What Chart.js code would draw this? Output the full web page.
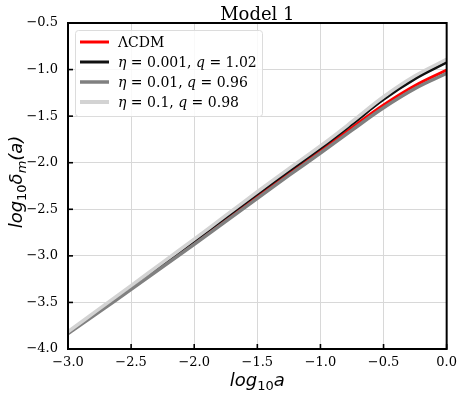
<!DOCTYPE html>
<html>
<head>
<meta charset="utf-8">
<script src="https://cdn.jsdelivr.net/npm/chart.js@4"></script>
<style>
  html, body { margin: 0; padding: 0; background: #fff; }
  #wrap { width: 463px; height: 397px; }
</style>
</head>
<body>
<div id="wrap"><canvas id="myChart"></canvas></div>
<script>
// log10 a sample points
const logA = [-3, -2.75, -2.5, -2.25, -2, -1.75, -1.5, -1.25, -1, -0.75, -0.5, -0.25, 0];

// log10 delta_m(a) for each model
const lcdm  = [-3.828, -3.587, -3.347, -3.102, -2.857, -2.609, -2.359, -2.112, -1.87, -1.623, -1.38, -1.171, -1.005];
const eta1  = [-3.822, -3.577, -3.333, -3.086, -2.839, -2.587, -2.335, -2.087, -1.843, -1.585, -1.32, -1.098, -0.922];
const eta2  = [-3.835, -3.597, -3.36, -3.118, -2.876, -2.63, -2.382, -2.136, -1.896, -1.65, -1.41, -1.203, -1.04];
const eta3  = [-3.815, -3.567, -3.32, -3.07, -2.82, -2.566, -2.312, -2.064, -1.82, -1.56, -1.292, -1.067, -0.89];

const seriesLabels = ['\u039BCDM', 'η = 0.001, q = 1.02', 'η = 0.01, q = 0.96', 'η = 0.1, q = 0.98'];

const xTicks = [-3, -2.5, -2, -1.5, -1, -0.5, 0];
const yTicks = [-4, -3.5, -3, -2.5, -2, -1.5, -1, -0.5];

const pts = ys => logA.map((x, i) => ({ x: x, y: ys[i] }));
const fmt = v => (v < 0 ? '\u2212' : '') + Math.abs(v).toFixed(1);

const ctx = document.getElementById('myChart').getContext('2d');

// draws title, axis titles, inward ticks, frame and legend
const decor = {
    id: 'decor',
    afterDatasetsDraw(chart) {
        const c = chart.ctx;
        const a = chart.chartArea;
        const xs = chart.scales.x, ys = chart.scales.y;
        c.save();

        // inward ticks, left and bottom
        c.strokeStyle = '#000';
        c.lineWidth = 1.6;
        xTicks.forEach(v => {
            const px = xs.getPixelForValue(v);
            c.beginPath(); c.moveTo(px, a.bottom); c.lineTo(px, a.bottom - 5); c.stroke();
        });
        yTicks.forEach(v => {
            const py = ys.getPixelForValue(v);
            c.beginPath(); c.moveTo(a.left, py); c.lineTo(a.left + 5, py); c.stroke();
        });

        // frame
        c.lineWidth = 2;
        c.strokeRect(a.left, a.top, a.right - a.left, a.bottom - a.top);

        // title
        c.fillStyle = '#000';
        c.font = '18px "DejaVu Serif"';
        c.textAlign = 'center';
        c.textBaseline = 'alphabetic';
        c.fillText('Model 1', (a.left + a.right) / 2, 20);

        // mathtext-like pieces
        const pieces = (parts) => parts.map(p => {
            c.font = p.f;
            return Object.assign({ w: c.measureText(p.t).width }, p);
        });
        const drawPieces = (parts, cx, base) => {
            const tot = parts.reduce((s, p) => s + p.w, 0);
            let x = cx - tot / 2;
            c.textAlign = 'left';
            parts.forEach(p => {
                c.font = p.f;
                c.fillText(p.t, x, base + (p.dy || 0));
                x += p.w;
            });
        };
        const big = 'italic 18px "DejaVu Sans"';
        const sub = 'italic 13px "DejaVu Sans"';

        drawPieces(pieces([
            { t: 'log', f: big }, { t: '10', f: '13px "DejaVu Sans"', dy: 4 }, { t: 'a', f: big }
        ]), (a.left + a.right) / 2, 386);

        c.save();
        c.translate(22, (a.top + a.bottom) / 2 - 4);
        c.rotate(-Math.PI / 2);
        drawPieces(pieces([
            { t: 'log', f: big }, { t: '10', f: '13px "DejaVu Sans"', dy: 4 },
            { t: 'δ', f: big }, { t: 'm', f: sub, dy: 4 }, { t: '(a)', f: big }
        ]), 0, 0);
        c.restore();

        // legend
        const lx = 75, ly = 30, lw = 187, lh = 86;
        c.fillStyle = 'rgba(255,255,255,0.85)';
        c.strokeStyle = '#dcdcdc';
        c.lineWidth = 1;
        c.beginPath();
        c.roundRect(lx + 0.5, ly + 0.5, lw, lh, 3);
        c.fill(); c.stroke();

        chart.data.datasets.forEach((ds, i) => {
            const cy = 42 + i * 20;
            c.strokeStyle = ds.borderColor;
            c.lineWidth = ds.legendWidth;
            c.lineCap = 'butt';
            c.beginPath(); c.moveTo(80, cy); c.lineTo(109, cy); c.stroke();
            c.fillStyle = '#000';
            if (i === 0) {
                drawPiecesLeft([{ t: ds.label, f: '14px "DejaVu Serif"' }], 118, cy + 5);
            } else {
                const m = ds.label.match(/η = ([\d.]+), q = ([\d.]+)/);
                drawPiecesLeft([
                    { t: 'η', f: 'italic 14px "DejaVu Serif"' },
                    { t: ' = ' + m[1] + ', ', f: '14px "DejaVu Serif"' },
                    { t: 'q', f: 'italic 14px "DejaVu Serif"' },
                    { t: ' = ' + m[2], f: '14px "DejaVu Serif"' }
                ], 118, cy + 5);
            }
        });

        function drawPiecesLeft(parts, x, base) {
            c.textAlign = 'left';
            parts.forEach(p => {
                c.font = p.f;
                c.fillText(p.t, x, base);
                x += c.measureText(p.t).width;
            });
        }

        c.restore();
    }
};

// plotted in legend order: red first, light gray last (on top)
const myChart = new Chart(ctx, {
    type: 'line',
    data: {
        datasets: [
            { label: seriesLabels[0], data: pts(lcdm), borderColor: '#ff0000', borderWidth: 3, legendWidth: 3, order: 3 },
            { label: seriesLabels[1], data: pts(eta1), borderColor: '#111111', borderWidth: 3, legendWidth: 3, order: 2 },
            { label: seriesLabels[2], data: pts(eta2), borderColor: '#808080', borderWidth: 3.5, legendWidth: 3.5, order: 1 },
            { label: seriesLabels[3], data: pts(eta3), borderColor: '#d3d3d3', borderWidth: 3.5, legendWidth: 4, order: 0 }
        ].map(d => Object.assign(d, { pointRadius: 0, fill: false, tension: 0.4 }))
    },
    options: {
        responsive: true,
        maintainAspectRatio: false,
        animation: false,
        layout: { padding: { left: 0, top: 23, right: 16, bottom: 0 } },
        plugins: {
            legend: { display: false },
            tooltip: { enabled: false },
            title: { display: false }
        },
        scales: {
            x: {
                type: 'linear', min: -3, max: 0,
                afterBuildTicks: s => { s.ticks = xTicks.map(v => ({ value: v })); },
                afterFit: s => { s.height = 48; },
                grid: { color: '#d8d8d8', lineWidth: 1, drawTicks: false },
                border: { display: false },
                ticks: { padding: 6, color: '#000', font: { family: 'DejaVu Serif', size: 13 }, callback: v => fmt(v), maxRotation: 0 }
            },
            y: {
                type: 'linear', min: -4, max: -0.5,
                afterBuildTicks: s => { s.ticks = yTicks.map(v => ({ value: v })); },
                afterFit: s => { s.width = 68; },
                grid: { color: '#d8d8d8', lineWidth: 1, drawTicks: false },
                border: { display: false },
                ticks: { padding: 10, color: '#000', font: { family: 'DejaVu Serif', size: 13 }, callback: v => fmt(v) }
            }
        }
    },
    plugins: [decor]
});
</script>
</body>
</html>
